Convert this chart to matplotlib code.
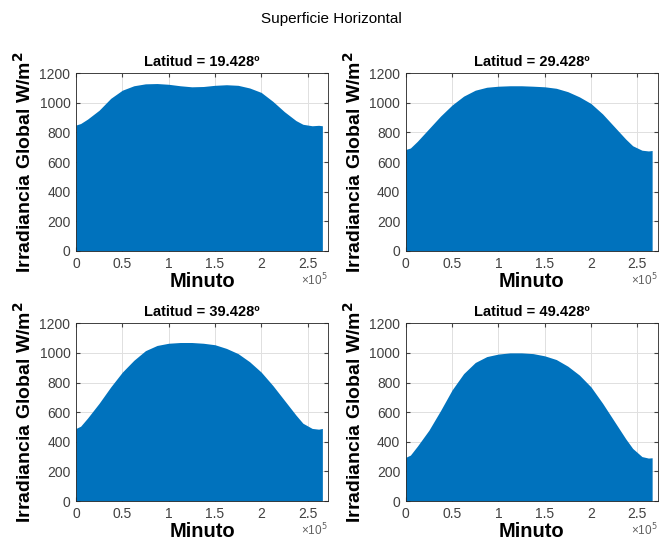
import numpy as np
import matplotlib
matplotlib.use("Agg")
from matplotlib import pyplot as plt
from matplotlib.ticker import FuncFormatter

# Envolvente de irradiancia global (W/m^2) leida cada 0.125e5 minutos
minutos = np.array([0, 0.05, 0.125, 0.25, 0.375, 0.5, 0.625, 0.75, 0.875, 1.0,
                    1.125, 1.25, 1.375, 1.5, 1.625, 1.75, 1.875, 2.0, 2.125,
                    2.25, 2.375, 2.45, 2.55, 2.62, 2.66]) * 1e5

latitudes = [19.428, 29.428, 39.428, 49.428]

irr_19 = [850, 860, 890, 950, 1030, 1085, 1115, 1128, 1130, 1125,
          1115, 1108, 1110, 1118, 1122, 1118, 1100, 1070, 1010,
          940, 880, 855, 845, 848, 845]
irr_29 = [685, 695, 740, 825, 910, 985, 1045, 1085, 1105, 1112,
          1115, 1115, 1112, 1108, 1098, 1075, 1040, 995, 925,
          840, 755, 710, 680, 675, 678]
irr_39 = [490, 505, 560, 660, 770, 870, 950, 1015, 1050, 1065,
          1070, 1070, 1065, 1055, 1030, 995, 940, 870, 780,
          680, 580, 525, 490, 485, 490]
irr_49 = [295, 310, 370, 478, 610, 750, 860, 935, 975, 992,
          1000, 1000, 995, 980, 955, 910, 850, 770, 660,
          540, 420, 355, 300, 290, 292]

series = [irr_19, irr_29, irr_39, irr_49]

plt.rcParams["font.family"] = ["Liberation Sans", "DejaVu Sans"]

fig = plt.figure(figsize=(6.63, 5.42), dpi=100)
fig.suptitle("Superficie Horizontal", fontsize=11, y=0.978)

posiciones = [
    [0.1146, 0.537, 0.380, 0.328],
    [0.612, 0.537, 0.380, 0.328],
    [0.1146, 0.0756, 0.380, 0.328],
    [0.612, 0.0756, 0.380, 0.328],
]

color_matlab = "#0072BD"

for pos, lat, irr in zip(posiciones, latitudes, series):
    ax = fig.add_axes(pos)
    x = np.concatenate([minutos, [minutos[-1]]])
    y = np.concatenate([irr, [0]])
    ax.fill_between(x, 0, y, color=color_matlab, linewidth=0)
    ax.set_xlim(0, 2.72e5)
    ax.set_ylim(0, 1200)
    ax.set_xticks(np.arange(0, 2.6e5, 0.5e5))
    ax.set_yticks(np.arange(0, 1201, 200))
    ax.xaxis.set_major_formatter(FuncFormatter(lambda v, p: "%g" % (v / 1e5)))
    ax.grid(True, color="#e0e0e0", linewidth=0.7)
    ax.set_axisbelow(True)
    ax.tick_params(direction="in", length=3, labelsize=10, colors="#404040",
                   top=True, right=True, pad=4)
    for s in ax.spines.values():
        s.set_color("#262626")
        s.set_linewidth(0.6)
    ax.set_title("Latitud = %.3fº" % lat, fontsize=10.5, fontweight="bold", pad=5)
    ax.set_xlabel("Minuto", fontsize=14.5, fontweight="bold", labelpad=1)
    ax.set_ylabel("Irradiancia Global W/m$^\\mathbf{2}$", fontsize=14,
                  fontweight="bold", labelpad=3)
    # factor de escala del eje x, debajo de las etiquetas
    ax.text(1.0, -0.165, "×10$^5$", transform=ax.transAxes, ha="right",
            va="center", fontsize=8.5, color="#606060")

fig.savefig("out.png", dpi=100)
